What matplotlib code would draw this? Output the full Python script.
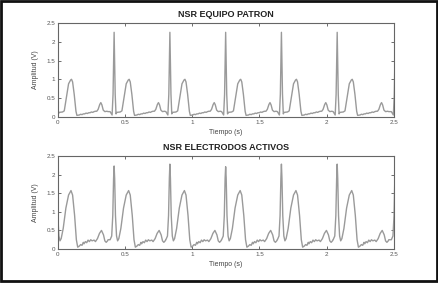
import numpy as np
import matplotlib.pyplot as plt
from matplotlib.patches import Rectangle

plt.rcParams['font.family'] = ['Liberation Sans', 'DejaVu Sans']

# R peak times (s)
r_times = [-0.010, 0.419, 0.834, 1.249, 1.664, 2.079, 2.512]

# one beat of the reference signal (tau = time from R peak)
tau_top = [-0.030, -0.015, -0.008, 0.000, 0.008, 0.014, 0.020, 0.045, 0.058, 0.075,
           0.090, 0.105, 0.112, 0.120, 0.132, 0.145, 0.152, 0.170, 0.180, 0.190,
           0.200, 0.210, 0.220, 0.230, 0.240, 0.250, 0.260, 0.270, 0.280, 0.290,
           0.300, 0.310, 0.322, 0.330, 0.338, 0.348, 0.360, 0.375, 0.384]
amp_top = [0.14, 0.05, 0.60, 2.25, 0.60, 0.08, 0.12, 0.13, 0.16, 0.55,
           0.88, 0.98, 1.00, 0.93, 0.60, 0.15, 0.04, 0.05, 0.07, 0.06,
           0.08, 0.08, 0.10, 0.09, 0.11, 0.11, 0.13, 0.12, 0.14, 0.15,
           0.15, 0.20, 0.33, 0.38, 0.32, 0.18, 0.14, 0.15, 0.14]

# electrodes signal, one beat
tau_bot = [-0.030, -0.018, -0.010, -0.004, 0.000, 0.004, 0.010, 0.018, 0.026, 0.035,
           0.050, 0.070, 0.090, 0.108, 0.120, 0.135, 0.148, 0.158, 0.170, 0.180,
           0.190, 0.200, 0.205, 0.215, 0.225, 0.235, 0.245, 0.255, 0.265, 0.280,
           0.290, 0.305, 0.320, 0.335, 0.350, 0.360, 0.370, 0.380, 0.384]
amp_bot = [0.25, 0.35, 0.90, 1.90, 2.25, 1.90, 0.90, 0.35, 0.22, 0.28,
           0.55, 1.10, 1.45, 1.57, 1.45, 0.90, 0.25, 0.05, 0.08, 0.12,
           0.10, 0.18, 0.14, 0.20, 0.17, 0.24, 0.20, 0.25, 0.22, 0.24,
           0.20, 0.28, 0.42, 0.50, 0.38, 0.22, 0.18, 0.22, 0.25]

# per-beat R peak heights of the electrodes signal
r_bot = [2.25, 2.23, 2.28, 2.21, 2.28, 2.28, 2.28]


def build(tau, amp, r_peaks=None):
    t_all, v_all = [], []
    for k, rt in enumerate(r_times):
        for tt, vv in zip(tau, amp):
            if tt == 0.0 and r_peaks is not None:
                vv = r_peaks[k]
            t_all.append(rt + tt)
            v_all.append(vv)
    return np.array(t_all), np.array(v_all)


t1, v1 = build(tau_top, amp_top)
t2, v2 = build(tau_bot, amp_bot, r_bot)

fig = plt.figure(figsize=(4.38, 2.83), dpi=100)

ax1 = fig.add_axes([0.132, 0.587, 0.767, 0.332])
ax2 = fig.add_axes([0.132, 0.120, 0.767, 0.329])

line_col = '#9a9a9a'
for ax, t, v, title in [(ax1, t1, v1, 'NSR EQUIPO PATRON'),
                        (ax2, t2, v2, 'NSR ELECTRODOS ACTIVOS')]:
    ax.plot(t, v, color=line_col, linewidth=1.0)
    ax.set_xlim(0, 2.5)
    ax.set_ylim(0, 2.5)
    ax.set_xticks([0, 0.5, 1, 1.5, 2, 2.5])
    ax.set_xticklabels(['0', '0.5', '1', '1.5', '2', '2.5'])
    ax.set_yticks([0, 0.5, 1, 1.5, 2, 2.5])
    ax.set_yticklabels(['0', '0.5', '1', '1.5', '2', '2.5'])
    ax.tick_params(direction='in', top=True, right=True, length=2.5, width=0.6,
                   labelsize=4.5, colors='#555555', pad=2)
    for s in ax.spines.values():
        s.set_color('#666666')
        s.set_linewidth(0.8)
    ax.set_xlabel('Tiempo (s)', fontsize=5, color='#444444', labelpad=3)
    ax.set_ylabel('Amplitud (V)', fontsize=5, color='#444444', labelpad=5)
    ax.set_title(title, fontsize=6.5, fontweight='bold', color='#222222', pad=4)

# outer frame of the screenshot
fig.patches.append(Rectangle((0.002, 0.008), 0.995, 0.988, transform=fig.transFigure,
                             fill=False, edgecolor='#111111', linewidth=2.0))

fig.savefig('out.png', dpi=100)
